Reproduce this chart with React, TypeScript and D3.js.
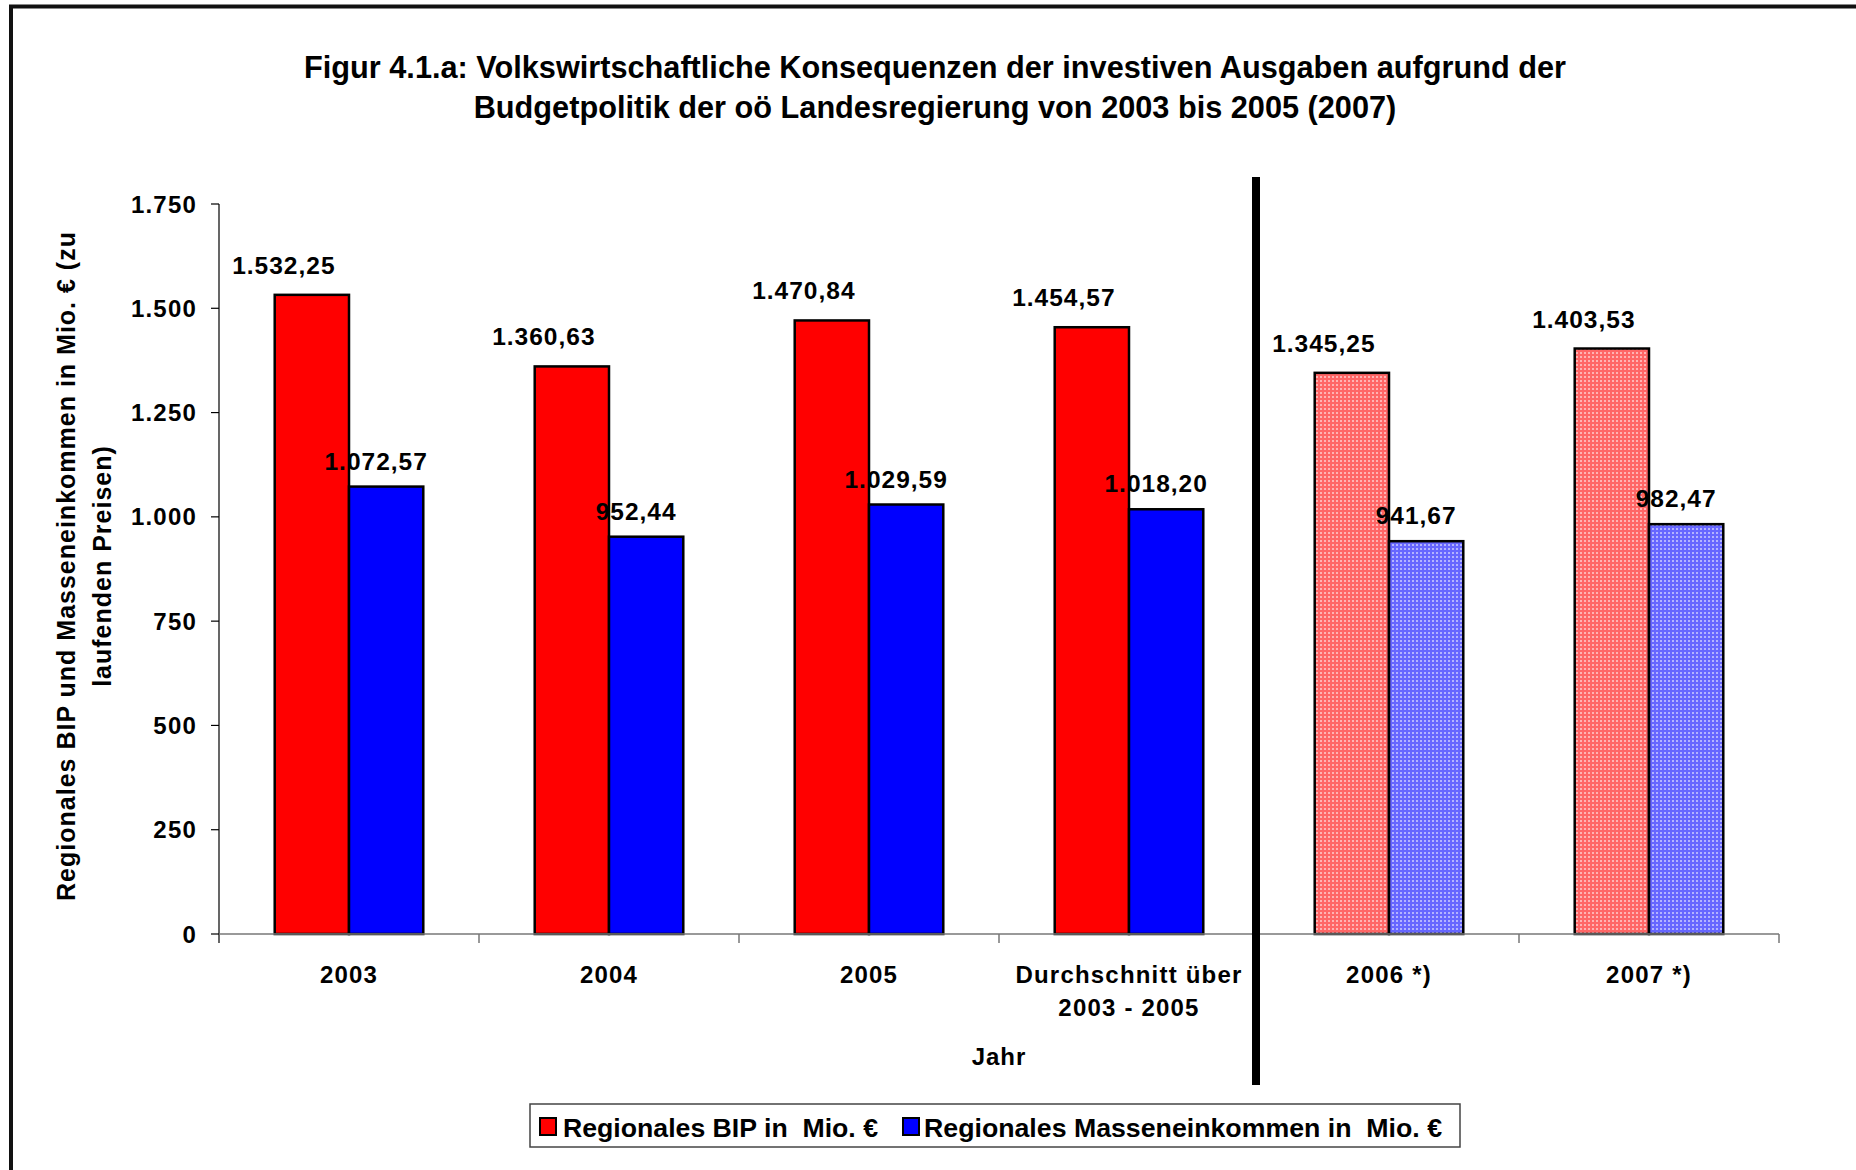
import React from 'react';
import * as d3 from 'd3';

const categories = ['2003', '2004', '2005', 'Durchschnitt über|2003 - 2005', '2006 *)', '2007 *)'];
const projected = [false, false, false, false, true, true];
const seriesNames = ['Regionales BIP in  Mio. €', 'Regionales Masseneinkommen in  Mio. €'];
const bipValues = [1532.25, 1360.63, 1470.84, 1454.57, 1345.25, 1403.53];
const einkommenValues = [1072.57, 952.44, 1029.59, 1018.2, 941.67, 982.47];
const yTicks = [0, 250, 500, 750, 1000, 1250, 1500, 1750];

const W = 1856;
const H = 1170;
const FONT = '"Liberation Sans", Arial, sans-serif';

// german number format: 1.532,25
const fmtValue = (v: number) => {
  const [i, d] = v.toFixed(2).split('.');
  return i.replace(/\B(?=(\d{3})+(?!\d))/g, '.') + ',' + d;
};
const fmtTick = (v: number) => String(v).replace(/\B(?=(\d{3})+(?!\d))/g, '.');

const App: React.FC = () => {
  const plot = { left: 219, right: 1779, top: 204, bottom: 934 };

  const x = d3.scaleBand<string>().domain(categories).range([plot.left, plot.right]).padding(0);
  const inner = d3.scaleBand<number>().domain([0, 1]).range([0, x.bandwidth()]).paddingInner(0).paddingOuter(0.75);
  const y = d3.scaleLinear().domain([0, 1750]).range([plot.bottom, plot.top]);

  const series = [bipValues, einkommenValues];
  const solid = ['#ff0000', '#0000ff'];
  const dotted = ['url(#dotRed)', 'url(#dotBlue)'];
  const labelDx = [-28, -10];
  const labelDy = [-21, -17];

  const txt = { fontFamily: FONT, fontWeight: 700 as const, fill: '#000' };

  return (
    <svg width={W} height={H} style={{ display: 'block' }}>
      <style>{'body{margin:0}'}</style>
      <defs>
        <pattern id="dotRed" width={4} height={4} patternUnits="userSpaceOnUse">
          <rect width={4} height={4} fill="#ff6666" />
          <rect width={2} height={2} fill="#ffb3b3" />
        </pattern>
        <pattern id="dotBlue" width={4} height={4} patternUnits="userSpaceOnUse">
          <rect width={4} height={4} fill="#6666ff" />
          <rect width={2} height={2} fill="#b3b3ff" />
        </pattern>
      </defs>
      <rect x={0} y={0} width={W} height={H} fill="#fff" />
      {/* outer frame, runs off the right/bottom edge */}
      <rect x={11} y={6.5} width={W + 20} height={H + 20} fill="none" stroke="#111" strokeWidth={4} />

      <text x={935} y={78} textAnchor="middle" fontSize={30.7} {...txt}>
        Figur 4.1.a: Volkswirtschaftliche Konsequenzen der investiven Ausgaben aufgrund der
      </text>
      <text x={935} y={118} textAnchor="middle" fontSize={30.7} {...txt}>
        Budgetpolitik der oö Landesregierung von 2003 bis 2005 (2007)
      </text>

      {/* y axis */}
      <line x1={plot.left} x2={plot.left} y1={plot.top} y2={plot.bottom + 9} stroke="#000" strokeWidth={1.2} />
      {yTicks.map((t) => (
        <g key={t}>
          <line x1={plot.left - 8} x2={plot.left} y1={y(t)} y2={y(t)} stroke="#000" strokeWidth={1.2} />
          <text x={197} y={y(t) + 8.5} textAnchor="end" fontSize={24} letterSpacing={1.2} {...txt}>
            {fmtTick(t)}
          </text>
        </g>
      ))}
      <g transform="translate(75,566) rotate(-90)">
        <text x={0} y={0} textAnchor="middle" fontSize={25} letterSpacing={1} {...txt}>
          Regionales BIP und Masseneinkommen in Mio. € (zu
        </text>
        <text x={0} y={36} textAnchor="middle" fontSize={25} letterSpacing={1} {...txt}>
          laufenden Preisen)
        </text>
      </g>

      {/* bars */}
      {categories.map((c, ci) => (
        <g key={c}>
          {series.map((vals, si) => {
            const bx = (x(c) ?? 0) + (inner(si) ?? 0);
            const by = y(vals[ci]);
            return (
              <rect
                key={si}
                x={bx}
                y={by}
                width={inner.bandwidth()}
                height={plot.bottom - by}
                fill={projected[ci] ? dotted[si] : solid[si]}
                stroke="#000"
                strokeWidth={2.5}
              />
            );
          })}
        </g>
      ))}

      {/* x axis */}
      <line x1={plot.left} x2={plot.right} y1={plot.bottom} y2={plot.bottom} stroke="#777" strokeWidth={1.5} />
      {categories.map((c, ci) => (
        <line
          key={'t' + ci}
          x1={(x(c) ?? 0) + x.bandwidth()}
          x2={(x(c) ?? 0) + x.bandwidth()}
          y1={plot.bottom}
          y2={plot.bottom + 9}
          stroke="#777"
          strokeWidth={1.5}
        />
      ))}

      {/* value labels */}
      {categories.map((c, ci) =>
        series.map((vals, si) => (
          <text
            key={c + si}
            x={(x(c) ?? 0) + (inner(si) ?? 0) + inner.bandwidth() / 2 + labelDx[si]}
            y={y(vals[ci]) + labelDy[si]}
            textAnchor="middle"
            fontSize={24.5}
            letterSpacing={1}
            {...txt}
          >
            {fmtValue(vals[ci])}
          </text>
        ))
      )}

      {/* category labels */}
      {categories.map((c) =>
        c.split('|').map((line, li) => (
          <text
            key={c + li}
            x={(x(c) ?? 0) + x.bandwidth() / 2}
            y={983 + li * 33}
            textAnchor="middle"
            fontSize={24}
            letterSpacing={1.2}
            {...txt}
          >
            {line}
          </text>
        ))
      )}
      <text x={(plot.left + plot.right) / 2} y={1065} textAnchor="middle" fontSize={24} letterSpacing={1} {...txt}>
        Jahr
      </text>

      {/* divider between actual and forecast years */}
      <line x1={1256} x2={1256} y1={177} y2={1085} stroke="#000" strokeWidth={8} />

      {/* legend */}
      <rect x={530} y={1104} width={930} height={43} fill="#fff" stroke="#444" strokeWidth={1.5} />
      <rect x={540} y={1118} width={16} height={17} fill={solid[0]} stroke="#000" strokeWidth={2} />
      <text x={563} y={1137} fontSize={25} textLength={315} lengthAdjust="spacingAndGlyphs" style={{ whiteSpace: 'pre' }} {...txt}>
        {seriesNames[0]}
      </text>
      <rect x={903} y={1118} width={16} height={17} fill={solid[1]} stroke="#000" strokeWidth={2} />
      <text x={924} y={1137} fontSize={25} textLength={518} lengthAdjust="spacingAndGlyphs" style={{ whiteSpace: 'pre' }} {...txt}>
        {seriesNames[1]}
      </text>
    </svg>
  );
};

export default App;
